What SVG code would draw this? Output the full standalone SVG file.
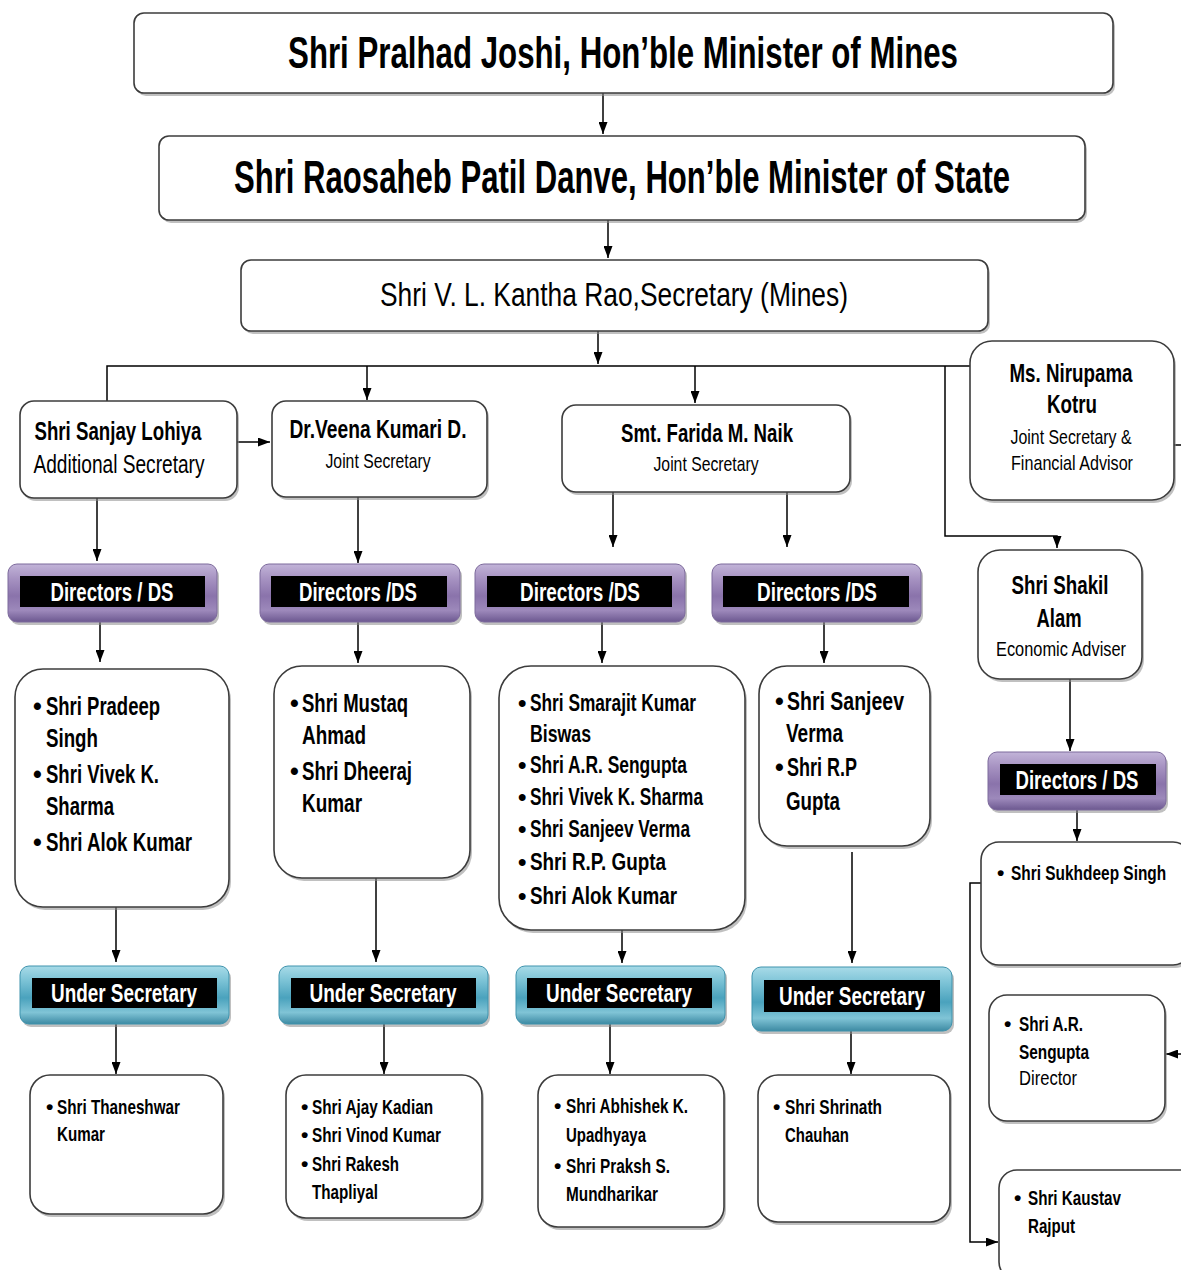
<svg xmlns="http://www.w3.org/2000/svg" width="1181" height="1270" viewBox="0 0 1181 1270">
<defs>
<style>
.box{fill:#fff;stroke:#3c3c3c;stroke-width:1.6}
.sh{fill:#8c8c8c;opacity:0.55}
.t{font-family:"Liberation Sans","Arial",sans-serif;fill:#000}
.b{font-weight:bold}
.w{fill:#fff;font-weight:bold;font-size:25px}
.c{text-anchor:middle}
.conn{stroke:#000;stroke-width:1.5;fill:none}
.inner{fill:#000}
</style>
<linearGradient id="purple" x1="0" y1="0" x2="0" y2="1">
<stop offset="0" stop-color="#c2b4d8"/>
<stop offset="0.25" stop-color="#a793c2"/>
<stop offset="0.55" stop-color="#8a73ab"/>
<stop offset="0.8" stop-color="#9d89bb"/>
<stop offset="1" stop-color="#6c5890"/>
</linearGradient>
<linearGradient id="teal" x1="0" y1="0" x2="0" y2="1">
<stop offset="0" stop-color="#a8dbe8"/>
<stop offset="0.25" stop-color="#7cc3d6"/>
<stop offset="0.55" stop-color="#4aa2bd"/>
<stop offset="0.8" stop-color="#80c4d6"/>
<stop offset="1" stop-color="#3d8aa3"/>
</linearGradient>
<marker id="ah" markerUnits="userSpaceOnUse" markerWidth="12" markerHeight="9" viewBox="0 0 12 9" refX="12" refY="4.5" orient="auto">
<path d="M0,0 L12,4.5 L0,9 z" fill="#000"/>
</marker>
</defs>
<rect width="1181" height="1270" fill="#fff"/>

<g id="connectors">
<path class="conn" d="M603,93 V134" marker-end="url(#ah)"/>
<path class="conn" d="M608,220 V258" marker-end="url(#ah)"/>
<path class="conn" d="M598,331 V364" marker-end="url(#ah)"/>
<path class="conn" d="M107,401 V366 H970"/>
<path class="conn" d="M367,366 V400" marker-end="url(#ah)"/>
<path class="conn" d="M695,366 V403" marker-end="url(#ah)"/>
<path class="conn" d="M945,366 V536 H1057 V548" marker-end="url(#ah)"/>
<path class="conn" d="M1174,445 H1181"/>
<path class="conn" d="M237,442 H270" marker-end="url(#ah)"/>
<path class="conn" d="M97,498 V561" marker-end="url(#ah)"/>
<path class="conn" d="M358,497 V563" marker-end="url(#ah)"/>
<path class="conn" d="M613,492 V547" marker-end="url(#ah)"/>
<path class="conn" d="M787,492 V547" marker-end="url(#ah)"/>
<path class="conn" d="M100,622 V662" marker-end="url(#ah)"/>
<path class="conn" d="M358,622 V663" marker-end="url(#ah)"/>
<path class="conn" d="M602,622 V663" marker-end="url(#ah)"/>
<path class="conn" d="M824,622 V663" marker-end="url(#ah)"/>
<path class="conn" d="M1070,679 V751" marker-end="url(#ah)"/>
<path class="conn" d="M1077,810 V841" marker-end="url(#ah)"/>
<path class="conn" d="M116,907 V962" marker-end="url(#ah)"/>
<path class="conn" d="M376,878 V962" marker-end="url(#ah)"/>
<path class="conn" d="M622,930 V963" marker-end="url(#ah)"/>
<path class="conn" d="M852,852 V963" marker-end="url(#ah)"/>
<path class="conn" d="M116,1024 V1074" marker-end="url(#ah)"/>
<path class="conn" d="M384,1024 V1074" marker-end="url(#ah)"/>
<path class="conn" d="M610,1024 V1074" marker-end="url(#ah)"/>
<path class="conn" d="M851,1031 V1074" marker-end="url(#ah)"/>
<path class="conn" d="M981,883 H970 V1242 H998" marker-end="url(#ah)"/>
<path class="conn" d="M1181,1054 H1166" marker-end="url(#ah)"/>
</g>

<g id="n-minister">
<rect class="sh" x="136" y="16" width="979" height="80" rx="10"/>
<rect class="box" x="134" y="13" width="979" height="80" rx="10"/>
<text class="t b c" transform="translate(623,68) scale(0.7,1)" x="0" y="0" font-size="44" textLength="957" lengthAdjust="spacingAndGlyphs">Shri Pralhad Joshi, Hon’ble Minister of Mines</text>
</g>
<g id="n-mos">
<rect class="sh" x="161" y="139" width="926" height="84" rx="10"/>
<rect class="box" x="159" y="136" width="926" height="84" rx="10"/>
<text class="t b c" transform="translate(622,193) scale(0.65,1)" x="0" y="0" font-size="46" textLength="1194" lengthAdjust="spacingAndGlyphs">Shri Raosaheb Patil Danve, Hon’ble Minister of State</text>
</g>
<g id="n-secretary">
<rect class="sh" x="243" y="263" width="747" height="71" rx="10"/>
<rect class="box" x="241" y="260" width="747" height="71" rx="10"/>
<text class="t c" x="614" y="306" font-size="34" textLength="468" lengthAdjust="spacingAndGlyphs">Shri V. L. Kantha Rao,Secretary (Mines)</text>
</g>

<g id="n-lohiya">
<rect class="sh" x="22" y="404" width="217" height="97" rx="14"/>
<rect class="box" x="20" y="401" width="217" height="97" rx="14"/>
<text class="t b c" x="118" y="440" font-size="26" textLength="167" lengthAdjust="spacingAndGlyphs">Shri Sanjay Lohiya</text>
<text class="t c" x="119" y="473" font-size="26" textLength="171" lengthAdjust="spacingAndGlyphs">Additional Secretary</text>
</g>
<g id="n-veena">
<rect class="sh" x="274" y="404" width="215" height="96" rx="14"/>
<rect class="box" x="272" y="401" width="215" height="96" rx="14"/>
<text class="t b c" x="378" y="438" font-size="26" textLength="177" lengthAdjust="spacingAndGlyphs">Dr.Veena Kumari D.</text>
<text class="t c" x="378" y="468" font-size="21" textLength="105" lengthAdjust="spacingAndGlyphs">Joint Secretary</text>
</g>
<g id="n-farida">
<rect class="sh" x="564" y="408" width="288" height="87" rx="14"/>
<rect class="box" x="562" y="405" width="288" height="87" rx="14"/>
<text class="t b c" x="707" y="442" font-size="26" textLength="172" lengthAdjust="spacingAndGlyphs">Smt. Farida M. Naik</text>
<text class="t c" x="706" y="471" font-size="21" textLength="105" lengthAdjust="spacingAndGlyphs">Joint Secretary</text>
</g>
<g id="n-nirupama">
<rect class="sh" x="972" y="344" width="204" height="159" rx="22"/>
<rect class="box" x="970" y="341" width="204" height="159" rx="22"/>
<text class="t b c" x="1071" y="382" font-size="26" textLength="123" lengthAdjust="spacingAndGlyphs">Ms. Nirupama</text>
<text class="t b c" x="1072" y="413" font-size="26" textLength="50" lengthAdjust="spacingAndGlyphs">Kotru</text>
<text class="t c" x="1071" y="444" font-size="21" textLength="121" lengthAdjust="spacingAndGlyphs">Joint Secretary &amp;</text>
<text class="t c" x="1072" y="470" font-size="21" textLength="122" lengthAdjust="spacingAndGlyphs">Financial Advisor</text>
</g>
<g id="n-shakil">
<rect class="sh" x="980" y="553" width="164" height="129" rx="22"/>
<rect class="box" x="978" y="550" width="164" height="129" rx="22"/>
<text class="t b c" x="1060" y="594" font-size="26" textLength="97" lengthAdjust="spacingAndGlyphs">Shri Shakil</text>
<text class="t b c" x="1059" y="627" font-size="26" textLength="45" lengthAdjust="spacingAndGlyphs">Alam</text>
<text class="t c" x="1061" y="656" font-size="21" textLength="130" lengthAdjust="spacingAndGlyphs">Economic Adviser</text>
</g>

<g id="n-dir1">
<rect class="sh" x="10" y="567" width="209" height="58" rx="9"/>
<rect x="8" y="564" width="209" height="58" rx="9" fill="url(#purple)" stroke="#7d6a9c" stroke-width="1"/>
<rect class="inner" x="20" y="576" width="185" height="31"/>
<text class="t w c" x="112" y="601" textLength="123" lengthAdjust="spacingAndGlyphs">Directors / DS</text>
</g>
<g id="n-dir2">
<rect class="sh" x="262" y="567" width="200" height="58" rx="9"/>
<rect x="260" y="564" width="200" height="58" rx="9" fill="url(#purple)" stroke="#7d6a9c" stroke-width="1"/>
<rect class="inner" x="271" y="576" width="176" height="31"/>
<text class="t w c" x="358" y="601" textLength="118" lengthAdjust="spacingAndGlyphs">Directors /DS</text>
</g>
<g id="n-dir3">
<rect class="sh" x="477" y="567" width="210" height="58" rx="9"/>
<rect x="475" y="564" width="210" height="58" rx="9" fill="url(#purple)" stroke="#7d6a9c" stroke-width="1"/>
<rect class="inner" x="487" y="576" width="185" height="31"/>
<text class="t w c" x="580" y="601" textLength="120" lengthAdjust="spacingAndGlyphs">Directors /DS</text>
</g>
<g id="n-dir4">
<rect class="sh" x="714" y="567" width="209" height="58" rx="9"/>
<rect x="712" y="564" width="209" height="58" rx="9" fill="url(#purple)" stroke="#7d6a9c" stroke-width="1"/>
<rect class="inner" x="723" y="576" width="186" height="31"/>
<text class="t w c" x="817" y="601" textLength="120" lengthAdjust="spacingAndGlyphs">Directors /DS</text>
</g>
<g id="n-dir5">
<rect class="sh" x="990" y="755" width="178" height="58" rx="9"/>
<rect x="988" y="752" width="178" height="58" rx="9" fill="url(#purple)" stroke="#7d6a9c" stroke-width="1"/>
<rect class="inner" x="1000" y="764" width="156" height="31"/>
<text class="t w c" x="1077" y="789" textLength="123" lengthAdjust="spacingAndGlyphs">Directors / DS</text>
</g>

<g id="n-list1">
<rect class="sh" x="17" y="672" width="214" height="238" rx="28"/>
<rect class="box" x="15" y="669" width="214" height="238" rx="28"/>
<g class="t b" font-size="25">
<text x="33" y="715">•</text><text x="46" y="715" textLength="114" lengthAdjust="spacingAndGlyphs">Shri Pradeep</text>
<text x="46" y="747" textLength="52" lengthAdjust="spacingAndGlyphs">Singh</text>
<text x="33" y="783">•</text><text x="46" y="783" textLength="113" lengthAdjust="spacingAndGlyphs">Shri Vivek K.</text>
<text x="46" y="815" textLength="68" lengthAdjust="spacingAndGlyphs">Sharma</text>
<text x="33" y="851">•</text><text x="46" y="851" textLength="146" lengthAdjust="spacingAndGlyphs">Shri Alok Kumar</text>
</g>
</g>
<g id="n-list2">
<rect class="sh" x="276" y="669" width="196" height="212" rx="28"/>
<rect class="box" x="274" y="666" width="196" height="212" rx="28"/>
<g class="t b" font-size="25">
<text x="290" y="712">•</text><text x="302" y="712" textLength="106" lengthAdjust="spacingAndGlyphs">Shri Mustaq</text>
<text x="302" y="744" textLength="64" lengthAdjust="spacingAndGlyphs">Ahmad</text>
<text x="290" y="780">•</text><text x="302" y="780" textLength="110" lengthAdjust="spacingAndGlyphs">Shri Dheeraj</text>
<text x="302" y="812" textLength="60" lengthAdjust="spacingAndGlyphs">Kumar</text>
</g>
</g>
<g id="n-list3">
<rect class="sh" x="501" y="669" width="246" height="264" rx="32"/>
<rect class="box" x="499" y="666" width="246" height="264" rx="32"/>
<g class="t b" font-size="24">
<text x="518" y="711">•</text><text x="530" y="711" textLength="166" lengthAdjust="spacingAndGlyphs">Shri Smarajit Kumar</text>
<text x="530" y="742" textLength="61" lengthAdjust="spacingAndGlyphs">Biswas</text>
<text x="518" y="773">•</text><text x="530" y="773" textLength="157" lengthAdjust="spacingAndGlyphs">Shri A.R. Sengupta</text>
<text x="518" y="805">•</text><text x="530" y="805" textLength="173" lengthAdjust="spacingAndGlyphs">Shri Vivek K. Sharma</text>
<text x="518" y="837">•</text><text x="530" y="837" textLength="160" lengthAdjust="spacingAndGlyphs">Shri Sanjeev Verma</text>
<text x="518" y="870">•</text><text x="530" y="870" textLength="136" lengthAdjust="spacingAndGlyphs">Shri R.P. Gupta</text>
<text x="518" y="904">•</text><text x="530" y="904" textLength="147" lengthAdjust="spacingAndGlyphs">Shri Alok Kumar</text>
</g>
</g>
<g id="n-list4">
<rect class="sh" x="761" y="669" width="171" height="180" rx="28"/>
<rect class="box" x="759" y="666" width="171" height="180" rx="28"/>
<g class="t b" font-size="25">
<text x="775" y="710">•</text><text x="787" y="710" textLength="117" lengthAdjust="spacingAndGlyphs">Shri  Sanjeev</text>
<text x="786" y="742" textLength="57" lengthAdjust="spacingAndGlyphs">Verma</text>
<text x="775" y="776">•</text><text x="787" y="776" textLength="70" lengthAdjust="spacingAndGlyphs">Shri R.P</text>
<text x="786" y="810" textLength="54" lengthAdjust="spacingAndGlyphs">Gupta</text>
</g>
</g>

<g id="n-us1">
<rect class="sh" x="22" y="969" width="209" height="58" rx="9"/>
<rect x="20" y="966" width="209" height="58" rx="9" fill="url(#teal)" stroke="#3f93ad" stroke-width="1"/>
<rect class="inner" x="32" y="978" width="185" height="30"/>
<text class="t w c" x="124" y="1002" textLength="146" lengthAdjust="spacingAndGlyphs">Under Secretary</text>
</g>
<g id="n-us2">
<rect class="sh" x="281" y="969" width="209" height="58" rx="9"/>
<rect x="279" y="966" width="209" height="58" rx="9" fill="url(#teal)" stroke="#3f93ad" stroke-width="1"/>
<rect class="inner" x="291" y="978" width="185" height="30"/>
<text class="t w c" x="383" y="1002" textLength="147" lengthAdjust="spacingAndGlyphs">Under Secretary</text>
</g>
<g id="n-us3">
<rect class="sh" x="518" y="969" width="209" height="58" rx="9"/>
<rect x="516" y="966" width="209" height="58" rx="9" fill="url(#teal)" stroke="#3f93ad" stroke-width="1"/>
<rect class="inner" x="527" y="978" width="185" height="30"/>
<text class="t w c" x="619" y="1002" textLength="146" lengthAdjust="spacingAndGlyphs">Under Secretary</text>
</g>
<g id="n-us4">
<rect class="sh" x="754" y="970" width="200" height="64" rx="9"/>
<rect x="752" y="967" width="200" height="64" rx="9" fill="url(#teal)" stroke="#3f93ad" stroke-width="1"/>
<rect class="inner" x="764" y="980" width="176" height="32"/>
<text class="t w c" x="852" y="1005" textLength="146" lengthAdjust="spacingAndGlyphs">Under Secretary</text>
</g>

<g id="n-bot1">
<rect class="sh" x="32" y="1078" width="193" height="139" rx="20"/>
<rect class="box" x="30" y="1075" width="193" height="139" rx="20"/>
<g class="t b" font-size="21">
<text x="46" y="1114">•</text><text x="57" y="1114" textLength="123" lengthAdjust="spacingAndGlyphs">Shri Thaneshwar</text>
<text x="57" y="1141" textLength="48" lengthAdjust="spacingAndGlyphs">Kumar</text>
</g>
</g>
<g id="n-bot2">
<rect class="sh" x="288" y="1078" width="196" height="143" rx="20"/>
<rect class="box" x="286" y="1075" width="196" height="143" rx="20"/>
<g class="t b" font-size="21">
<text x="301" y="1114">•</text><text x="312" y="1114" textLength="121" lengthAdjust="spacingAndGlyphs">Shri Ajay Kadian</text>
<text x="301" y="1142">•</text><text x="312" y="1142" textLength="129" lengthAdjust="spacingAndGlyphs">Shri Vinod Kumar</text>
<text x="301" y="1171">•</text><text x="312" y="1171" textLength="87" lengthAdjust="spacingAndGlyphs">Shri Rakesh</text>
<text x="312" y="1199" textLength="66" lengthAdjust="spacingAndGlyphs">Thapliyal</text>
</g>
</g>
<g id="n-bot3">
<rect class="sh" x="540" y="1078" width="186" height="152" rx="20"/>
<rect class="box" x="538" y="1075" width="186" height="152" rx="20"/>
<g class="t b" font-size="21">
<text x="554" y="1113">•</text><text x="566" y="1113" textLength="122" lengthAdjust="spacingAndGlyphs">Shri Abhishek K.</text>
<text x="566" y="1142" textLength="80" lengthAdjust="spacingAndGlyphs">Upadhyaya</text>
<text x="554" y="1173">•</text><text x="566" y="1173" textLength="104" lengthAdjust="spacingAndGlyphs">Shri Praksh  S.</text>
<text x="566" y="1201" textLength="92" lengthAdjust="spacingAndGlyphs">Mundharikar</text>
</g>
</g>
<g id="n-bot4">
<rect class="sh" x="760" y="1078" width="192" height="147" rx="20"/>
<rect class="box" x="758" y="1075" width="192" height="147" rx="20"/>
<g class="t b" font-size="21">
<text x="773" y="1114">•</text><text x="785" y="1114" textLength="97" lengthAdjust="spacingAndGlyphs">Shri Shrinath</text>
<text x="785" y="1142" textLength="64" lengthAdjust="spacingAndGlyphs">Chauhan</text>
</g>
</g>

<g id="n-sukhdeep">
<rect class="sh" x="983" y="845" width="210" height="123" rx="18"/>
<rect class="box" x="981" y="842" width="210" height="123" rx="18"/>
<g class="t b" font-size="21">
<text x="997" y="880">•</text><text transform="translate(1011,880) scale(0.78,1)" x="0" y="0" textLength="199" lengthAdjust="spacingAndGlyphs">Shri Sukhdeep Singh</text>
</g>
</g>
<g id="n-sengupta">
<rect class="sh" x="991" y="998" width="176" height="126" rx="18"/>
<rect class="box" x="989" y="995" width="176" height="126" rx="18"/>
<g class="t" font-size="21">
<text class="b" x="1004" y="1031">•</text><text class="b" x="1019" y="1031" textLength="64" lengthAdjust="spacingAndGlyphs">Shri A.R.</text>
<text class="b" x="1019" y="1059" textLength="70" lengthAdjust="spacingAndGlyphs">Sengupta</text>
<text x="1019" y="1085" textLength="58" lengthAdjust="spacingAndGlyphs">Director</text>
</g>
</g>
<g id="n-kaustav">
<rect class="sh" x="1001" y="1173" width="200" height="110" rx="18"/>
<rect class="box" x="999" y="1170" width="200" height="110" rx="18"/>
<g class="t b" font-size="21">
<text x="1014" y="1205">•</text><text x="1028" y="1205" textLength="93" lengthAdjust="spacingAndGlyphs">Shri Kaustav</text>
<text x="1028" y="1233" textLength="47" lengthAdjust="spacingAndGlyphs">Rajput</text>
</g>
</g>
</svg>
